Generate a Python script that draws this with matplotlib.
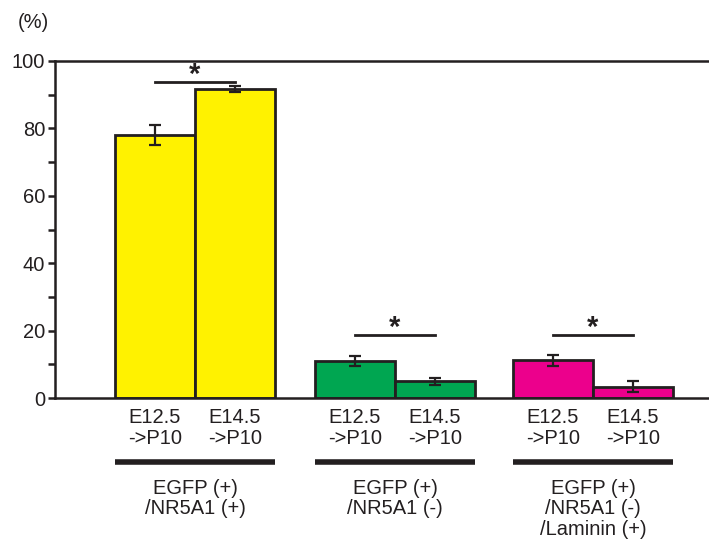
import matplotlib
matplotlib.use("Agg")
import matplotlib.pyplot as plt
import numpy as np

plt.rcParams['font.family'] = ['Liberation Sans', 'DejaVu Sans']

groups = ["EGFP (+)\n/NR5A1 (+)", "EGFP (+)\n/NR5A1 (-)", "EGFP (+)\n/NR5A1 (-)\n/Laminin (+)"]
stages = ["E12.5\n->P10", "E14.5\n->P10"]
colors = ["#FFF200", "#00A651", "#EC008C"]
values = [[78.0, 91.7], [10.9, 4.9], [11.2, 3.4]]
errors = [[2.9, 0.9], [1.5, 1.1], [1.7, 1.5]]
sig_heights = [93.7, 18.8, 18.8]
yticks = [0, 20, 40, 60, 80, 100]

ink = "#231F20"
fs = 14.5
fig = plt.figure(figsize=(7.09, 5.39), dpi=100)
ax = fig.add_axes([55/709, (539-398)/539, 1 - 55/709, 337/539])

group_centers = np.array([0.0, 2.5, 4.975])
bw = 1.0
for g, c in enumerate(group_centers):
    xs = [c - bw/2, c + bw/2]
    ax.bar(xs, values[g], width=bw, color=colors[g], edgecolor=ink, linewidth=2.0, zorder=2)
    ax.errorbar(xs, values[g], yerr=errors[g], fmt='none', ecolor=ink, elinewidth=1.6,
                capsize=4.2, capthick=1.6, zorder=3)
    # significance line
    ax.plot(xs, [sig_heights[g]] * 2, color=ink, lw=2.0, zorder=3, clip_on=False)
    ax.text(c, sig_heights[g] - 0.3, "*", ha='center', va='baseline', fontsize=21,
            fontweight='bold', color=ink, zorder=4)
    # stage labels
    tr = ax.get_xaxis_transform()
    for x, s in zip(xs, stages):
        ax.text(x, -0.03, s, transform=tr, ha='center', va='top', fontsize=fs,
                color=ink, linespacing=1.1)
    ax.plot([c - bw, c + bw], [-0.19, -0.19], transform=tr, color=ink, lw=4.0,
            clip_on=False, solid_capstyle='butt')
    ax.text(c, -0.24, groups[g], transform=tr, ha='center', va='top', fontsize=fs,
            color=ink, linespacing=1.1)

ax.set_xlim(-1.75, 6.425)
ax.set_ylim(0, 100)
ax.set_yticks(yticks)
ax.set_yticks([10, 30, 50, 70, 90], minor=True)
ax.set_xticks([])
ax.tick_params(axis='y', which='both', direction='out', length=5, width=1.8, color=ink,
               labelsize=fs, labelcolor=ink, pad=2)
for side in ['left', 'top', 'bottom']:
    ax.spines[side].set_linewidth(1.8)
    ax.spines[side].set_color(ink)
ax.spines['right'].set_visible(False)

fig.text(18/709, 1 - 22/539, "(%)", ha='left', va='center', fontsize=fs, color=ink)

fig.savefig("out.png", dpi=100)
